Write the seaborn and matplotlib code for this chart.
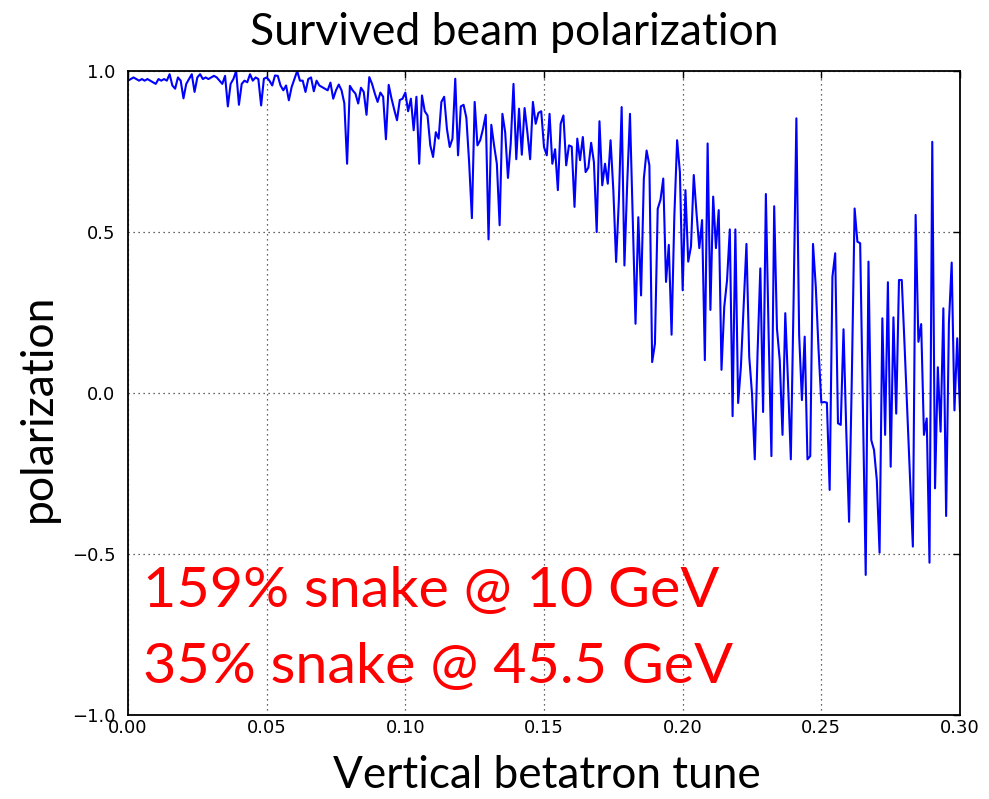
import numpy as np
import pandas as pd
import matplotlib
matplotlib.use("Agg")
import matplotlib.pyplot as plt
import seaborn as sns

# ---- data ----
tune_start = 0.0
tune_step = 0.001
polarization = [
    0.970, 0.975, 0.980, 0.975, 0.970, 0.975, 0.970, 0.975, 0.970, 0.965,
    0.960, 0.975, 0.970, 0.975, 0.970, 0.990, 0.955, 0.945, 0.980, 0.970,
    0.915, 0.960, 0.975, 0.990, 0.935, 0.980, 0.990, 0.975, 0.980, 0.975,
    0.980, 0.985, 0.980, 0.970, 0.960, 0.985, 0.890, 0.960, 0.975, 1.000,
    0.895, 0.960, 0.970, 0.965, 0.990, 0.970, 0.980, 0.975, 0.893, 0.976,
    0.980, 0.970, 0.955, 0.986, 0.985, 0.955, 0.940, 0.955, 0.909, 0.950,
    0.975, 1.000, 0.970, 0.970, 0.935, 0.975, 0.980, 0.937, 0.970, 0.955,
    0.950, 0.945, 0.940, 0.964, 0.914, 0.940, 0.958, 0.940, 0.900, 0.712,
    0.954, 0.940, 0.930, 0.899, 0.948, 0.935, 0.864, 0.981, 0.960, 0.930,
    0.904, 0.933, 0.920, 0.788, 0.957, 0.915, 0.880, 0.847, 0.910, 0.914,
    0.933, 0.875, 0.914, 0.816, 0.920, 0.712, 0.924, 0.875, 0.862, 0.769,
    0.733, 0.810, 0.790, 0.904, 0.920, 0.820, 0.764, 0.790, 0.976, 0.738,
    0.890, 0.895, 0.855, 0.717, 0.543, 0.904, 0.769, 0.785, 0.820, 0.864,
    0.477, 0.833, 0.769, 0.712, 0.521, 0.867, 0.810, 0.668, 0.775, 0.960,
    0.726, 0.883, 0.740, 0.885, 0.810, 0.726, 0.904, 0.836, 0.870, 0.875,
    0.764, 0.738, 0.867, 0.712, 0.757, 0.630, 0.836, 0.862, 0.707, 0.769,
    0.765, 0.578, 0.790, 0.723, 0.795, 0.686, 0.700, 0.777, 0.717, 0.500,
    0.844, 0.645, 0.712, 0.650, 0.785, 0.630, 0.407, 0.600, 0.888, 0.396,
    0.650, 0.867, 0.540, 0.215, 0.546, 0.303, 0.666, 0.753, 0.707, 0.096,
    0.153, 0.572, 0.600, 0.666, 0.345, 0.460, 0.181, 0.550, 0.785, 0.686,
    0.319, 0.630, 0.408, 0.455, 0.677, 0.558, 0.450, 0.537, 0.102, 0.775,
    0.258, 0.610, 0.450, 0.568, 0.072, 0.268, 0.350, 0.508, -0.072, 0.508,
    -0.031, 0.082, 0.270, 0.463, 0.113, -0.002, -0.206, 0.124, 0.387, -0.059,
    0.618, 0.180, -0.196, 0.580, 0.200, 0.102, -0.130, 0.248, 0.030, -0.206,
    0.289, 0.853, 0.180, -0.022, 0.175, -0.206, -0.196, 0.463, 0.330, 0.134,
    -0.030, -0.028, -0.030, -0.301, 0.361, 0.434, -0.094, -0.099, 0.198, -0.120,
    -0.400, 0.050, 0.573, 0.470, 0.465, -0.050, -0.565, 0.408, -0.146, -0.177,
    -0.270, -0.496, 0.232, -0.130, 0.344, -0.229, 0.235, -0.064, 0.351, 0.351,
    0.150, -0.060, -0.270, -0.477, 0.553, 0.159, 0.214, -0.130, -0.079, -0.527,
    0.780, -0.296, 0.080, -0.120, 0.263, -0.382, 0.217, 0.405, -0.054, 0.170,
    -0.057,
]
tune = [round(tune_start + k * tune_step, 3) for k in range(len(polarization))]

x_ticks = [0.00, 0.05, 0.10, 0.15, 0.20, 0.25, 0.30]
y_ticks = [-1.0, -0.5, 0.0, 0.5, 1.0]

title_text = "Survived beam polarization"
x_label = "Vertical betatron tune"
y_label = "polarization"
note_lines = ["159% snake @ 10 GeV", "35% snake @ 45.5 GeV"]

df = pd.DataFrame({"tune": tune, "polarization": polarization})

# ---- style ----
sns.set_style("white")
plt.rcParams["font.family"] = ["DejaVu Sans"]
plt.rcParams["xtick.direction"] = "in"
plt.rcParams["ytick.direction"] = "in"

W, H = 989, 799
fig = plt.figure(figsize=(W / 100, H / 100), dpi=100)
ax = fig.add_axes([128 / W, 1 - 715 / H, (960 - 128) / W, (715 - 71) / H])

sns.lineplot(data=df, x="tune", y="polarization", ax=ax, color="#0000ff",
             linewidth=1.5, estimator=None, sort=False)

ax.set_xlim(0.0, 0.3)
ax.set_ylim(-1.0, 1.0)
ax.set_xticks(x_ticks)
ax.set_yticks(y_ticks)
ax.set_xticklabels([f"{v:.2f}" for v in x_ticks], fontsize=13)
ax.set_yticklabels([f"{v:.1f}".replace("-", "\u2212") for v in y_ticks], fontsize=13)
ax.tick_params(axis="both", which="both", top=True, right=True, length=5,
               width=1, color="black", labelcolor="black")
ax.tick_params(axis="x", pad=3)
ax.tick_params(axis="y", pad=9)
ax.grid(True, color="black", linestyle=(0, (1, 3)), linewidth=0.9, alpha=0.8)
for s in ax.spines.values():
    s.set_color("black")
    s.set_linewidth(1.3)
ax.set_xlabel("")
ax.set_ylabel("")

big_font = ["Lato", "DejaVu Sans"]
fig.text(514 / W, 1 - 45 / H, title_text, ha="center", va="baseline",
         fontsize=32, family=big_font, color="black")
fig.text(547 / W, 1 - 788 / H, x_label, ha="center", va="baseline",
         fontsize=31.8, family=big_font, color="black")
fig.text(38 / W, 1 - 408 / H, y_label, ha="center", va="center", rotation=90,
         fontsize=32, family=big_font, color="black")

fig.text(143 / W, 1 - 607 / H, note_lines[0], ha="left", va="baseline",
         fontsize=41.4, family=big_font, color="#ff0000")
fig.text(143 / W, 1 - 683 / H, note_lines[1], ha="left", va="baseline",
         fontsize=41.4, family=big_font, color="#ff0000")

fig.savefig("out.png", dpi=100)
